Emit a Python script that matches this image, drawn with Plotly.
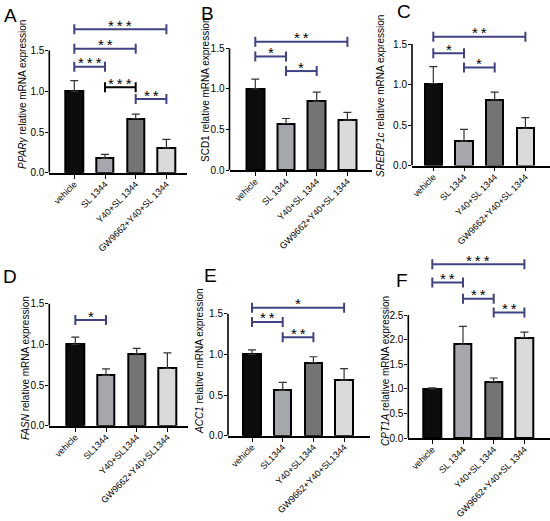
import plotly.graph_objects as go

# groupes (avec et sans espace, comme sur la figure)
groups_sp = ["vehicle", "SL 1344", "Y40+SL 1344", "GW9662+Y40+SL 1344"]
groups_ns = ["vehicle", "SL1344", "Y40+SL1344", "GW9662+Y40+SL1344"]

# moyennes et erreurs
pparg_mean = [1.0, 0.18, 0.665, 0.305]
pparg_err = [0.13, 0.045, 0.055, 0.105]
scd1_mean = [1.0, 0.57, 0.85, 0.615]
scd1_err = [0.12, 0.065, 0.11, 0.095]
srebp1c_mean = [1.01, 0.30, 0.81, 0.46]
srebp1c_err = [0.21, 0.145, 0.095, 0.13]
fasn_mean = [1.0, 0.62, 0.885, 0.705]
fasn_err = [0.09, 0.08, 0.065, 0.19]
acc1_mean = [1.0, 0.557, 0.898, 0.684]
acc1_err = [0.055, 0.10, 0.073, 0.14]
cpt1a_mean = [1.0, 1.905, 1.145, 2.04]
cpt1a_err = [0.02, 0.365, 0.075, 0.11]

# comparaisons : (groupe i, groupe j, hauteur, étoiles, noir?)
pparg_sig = [(0, 3, 1.762, "***", False), (0, 2, 1.523, "**", False),
             (0, 1, 1.302, "***", False), (1, 2, 1.049, "***", True),
             (2, 3, 0.905, "**", False)]
scd1_sig = [(0, 3, 1.58, "**", False), (0, 1, 1.40, "*", False), (1, 2, 1.22, "*", False)]
srebp1c_sig = [(0, 3, 1.59, "**", False), (0, 1, 1.385, "*", False), (1, 2, 1.21, "*", False)]
fasn_sig = [(0, 1, 1.30, "*", False)]
acc1_sig = [(0, 3, 1.574, "*", False), (0, 1, 1.40, "**", False), (1, 2, 1.21, "**", False)]
cpt1a_sig = [(0, 3, 3.53, "***", False), (0, 1, 3.16, "**", False),
             (1, 2, 2.83, "**", False), (2, 3, 2.55, "**", False)]

y_ticks_1 = [0, 0.5, 1.0, 1.5]
y_ticks_2 = [0, 0.5, 1.0, 1.5, 2.0, 2.5]

panels = [
    ("A", "<i>PPARγ</i>", groups_sp, pparg_mean, pparg_err, pparg_sig, y_ticks_1),
    ("B", "SCD1", groups_sp, scd1_mean, scd1_err, scd1_sig, y_ticks_1),
    ("C", "<i>SREBP1c</i>", groups_sp, srebp1c_mean, srebp1c_err, srebp1c_sig, y_ticks_1),
    ("D", "<i>FASN</i>", groups_ns, fasn_mean, fasn_err, fasn_sig, y_ticks_1),
    ("E", "<i>ACC1</i>", groups_ns, acc1_mean, acc1_err, acc1_sig, y_ticks_1),
    ("F", "<i>CPT1A</i>", groups_sp, cpt1a_mean, cpt1a_err, cpt1a_sig, y_ticks_2),
]

# géométrie en pixels de chaque panneau
W, H = 550, 521
SP = 30.7
geo = [
    dict(x0=49.3, x1=187, zero=172.7, ppu=81.4, off=25.0, top=0, letter=(10, 15), title=(23, 95)),
    dict(x0=229.5, x1=372, zero=170.0, ppu=81.1, off=25.8, top=0, letter=(207, 13), title=(205, 90)),
    dict(x0=412, x1=550, zero=165.5, ppu=81.0, off=21.3, top=0, letter=(404, 12), title=(380, 96)),
    dict(x0=49.3, x1=188, zero=425.7, ppu=81.3, off=26.0, top=245, letter=(10, 276), title=(25, 368)),
    dict(x0=228, x1=370, zero=435.7, ppu=81.3, off=24.0, top=245, letter=(211, 275), title=(199, 361)),
    dict(x0=408.3, x1=550, zero=438.0, ppu=49.2, off=24.0, top=245, letter=(402, 280), title=(385, 371)),
]

bar_colors = ["#0d0d0d", "#a4a7ac", "#747474", "#d9dbdb"]
blue = "#3f4385"
FONT = "Arial, Liberation Sans, sans-serif"

fig = go.Figure()
annotations = []
shapes = []

for k, ((letter, gene, labels, mean, err, sig, yt), g) in enumerate(zip(panels, geo)):
    n = "" if k == 0 else str(k + 1)
    xa, ya = "x" + n, "y" + n
    x_r0 = -g["off"] / SP
    x_r1 = x_r0 + (g["x1"] - g["x0"]) / SP
    y_r1 = (g["zero"] - g["top"]) / g["ppu"]

    fig.add_trace(go.Bar(
        x=list(range(len(mean))), y=mean, width=0.57,
        marker=dict(color=bar_colors, line=dict(color="black", width=2)),
        error_y=dict(type="data", symmetric=False, array=err, arrayminus=[0] * len(err),
                     color="#333333", thickness=1.2, width=4),
        xaxis=xa, yaxis=ya, showlegend=False,
    ))

    cap = 5 / g["ppu"]
    for i, j, h, stars, dark in sig:
        fig.add_trace(go.Scatter(
            x=[i, i, None, i, j, None, j, j],
            y=[h - cap, h + cap, None, h, h, None, h - cap, h + cap],
            mode="lines", line=dict(color="black" if dark else blue, width=2),
            xaxis=xa, yaxis=ya, showlegend=False, hoverinfo="skip",
        ))
        annotations.append(dict(
            x=(i + j) / 2, y=h, xref=xa, yref=ya, text="\u2009".join(stars),
            showarrow=False, yanchor="middle", yshift=4,
            font=dict(size=15, color="black", family=FONT),
        ))

    fig.layout[("xaxis" + n)] = dict(
        domain=[g["x0"] / W, g["x1"] / W], range=[x_r0, x_r1], anchor=ya,
        automargin=False,
        showline=True, linecolor="black", linewidth=1.6, showgrid=False, zeroline=False,
        tickvals=list(range(len(labels))), ticktext=labels, tickangle=-45,
        ticks="outside", ticklen=4, tickwidth=1.4, tickcolor="black",
        ticklabelstandoff=-3,
        tickfont=dict(size=9, color="black", family=FONT),
    )
    fig.layout[("yaxis" + n)] = dict(
        domain=[(H - g["zero"]) / H, (H - g["top"]) / H], range=[0, y_r1], anchor=xa,
        automargin=False,
        showline=False, showgrid=False, zeroline=False,
        tickvals=yt, ticktext=["%.1f" % v for v in yt],
        ticks="outside", ticklen=3, tickwidth=1.4, tickcolor="black",
        ticklabelstandoff=-1,
        tickfont=dict(size=10, color="black", family=FONT),
    )
    shapes.append(dict(type="line", xref=xa + " domain", yref=ya, x0=0, x1=0,
                       y0=0, y1=yt[-1], line=dict(color="black", width=1.6)))

    annotations.append(dict(
        x=g["letter"][0] / W, y=1 - g["letter"][1] / H, xref="paper", yref="paper",
        text=letter, showarrow=False, xanchor="center", yanchor="middle",
        font=dict(size=19, color="black", family=FONT),
    ))
    annotations.append(dict(
        x=g["title"][0] / W, y=1 - g["title"][1] / H, xref="paper", yref="paper",
        text=gene + " relative mRNA expression", textangle=-90, showarrow=False,
        xanchor="center", yanchor="middle",
        font=dict(size=10, color="black", family=FONT),
    ))

fig.update_layout(
    template="none",
    width=W, height=H, margin=dict(l=0, r=0, t=0, b=0, autoexpand=False),
    paper_bgcolor="white", plot_bgcolor="white",
    annotations=annotations, shapes=shapes, bargap=0,
)

# la page a une marge de 8px par défaut : on l'enlève
fig.write_html("out.html", config={"displayModeBar": False},
               post_script="document.body.style.margin='0';")
